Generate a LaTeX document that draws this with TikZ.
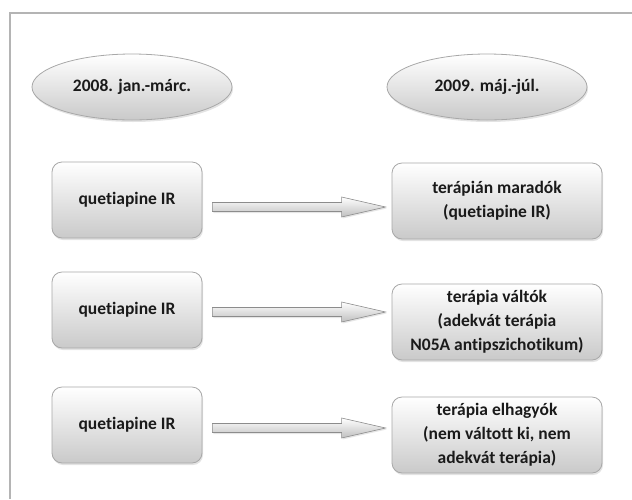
\documentclass[tikz,border=0pt]{standalone}
\usepackage{fontspec}
\setmainfont{Carlito}[Ligatures=NoCommon]
\usetikzlibrary{shadows,calc,shapes.geometric}
\definecolor{framegray}{HTML}{B4B4B4}
\definecolor{boxline}{HTML}{A8A8A8}
\definecolor{txt}{HTML}{1A1A1A}
\tikzset{
  every node/.style={font=\fontsize{17.5}{24}\selectfont\bfseries, text=txt, align=center},
  boxnode/.style={draw=boxline, line width=0.8pt, rounded corners=10pt,
    top color=white, bottom color=black!21, minimum height=76pt, inner sep=2pt,
    drop shadow={opacity=0.22, shadow xshift=1pt, shadow yshift=-2pt}},
  leftbox/.style={boxnode, minimum width=150pt},
  rightbox/.style={boxnode, minimum width=210pt},
  datebox/.style={ellipse, draw=boxline, line width=0.8pt, top color=white, bottom color=black!21,
    minimum width=200pt, minimum height=66pt, inner sep=0pt,
    drop shadow={opacity=0.22, shadow xshift=1pt, shadow yshift=-2pt}},
  fatarrow/.style={draw=black!45, line width=0.6pt, top color=white, bottom color=black!25,
    drop shadow={opacity=0.2, shadow xshift=1pt, shadow yshift=-1.5pt}},
}
\begin{document}
\begin{tikzpicture}[x=1pt,y=-1pt]
\useasboundingbox (0,0) rectangle (632,499);
\draw[framegray, line width=2pt] (632,13) -- (9.5,13) -- (9.5,499);

\node[datebox] (e1) at (132,87) {2008. jan.-márc.};
\node[datebox] (e2) at (487,87) {2009. máj.-júl.};

\node[leftbox] (l1) at (127,200) {quetiapine IR};
\node[leftbox] (l2) at (127,310) {quetiapine IR};
\node[leftbox] (l3) at (127,425) {quetiapine IR};

\node[rightbox] (r1) at (497,201) {terápián maradók\\(quetiapine IR)};
\node[rightbox] (r2) at (497,322) {terápia váltók\\(adekvát terápia\\N05A antipszichotikum)};
\node[rightbox] (r3) at (497,435) {terápia elhagyók\\(nem váltott ki, nem\\adekvát terápia)};

\coordinate (a1s) at ($(l1.east |- 0,207)+(10,0)$);
\coordinate (a1e) at ($(r1.west |- 0,207)+(-6,0)$);
\coordinate (a2s) at ($(l2.east |- 0,312)+(10,0)$);
\coordinate (a2e) at ($(r2.west |- 0,312)+(-6,0)$);
\coordinate (a3s) at ($(l3.east |- 0,428)+(10,0)$);
\coordinate (a3e) at ($(r3.west |- 0,428)+(-6,0)$);

\foreach \s/\e in {a1s/a1e, a2s/a2e, a3s/a3e}{
  \path[fatarrow] ($(\s)+(0,-4.5)$) -- ($(\e)+(-44,-4.5)$) -- ($(\e)+(-44,-10)$) -- (\e)
    -- ($(\e)+(-44,10)$) -- ($(\e)+(-44,4.5)$) -- ($(\s)+(0,4.5)$) -- cycle;
}
\end{tikzpicture}
\end{document}
